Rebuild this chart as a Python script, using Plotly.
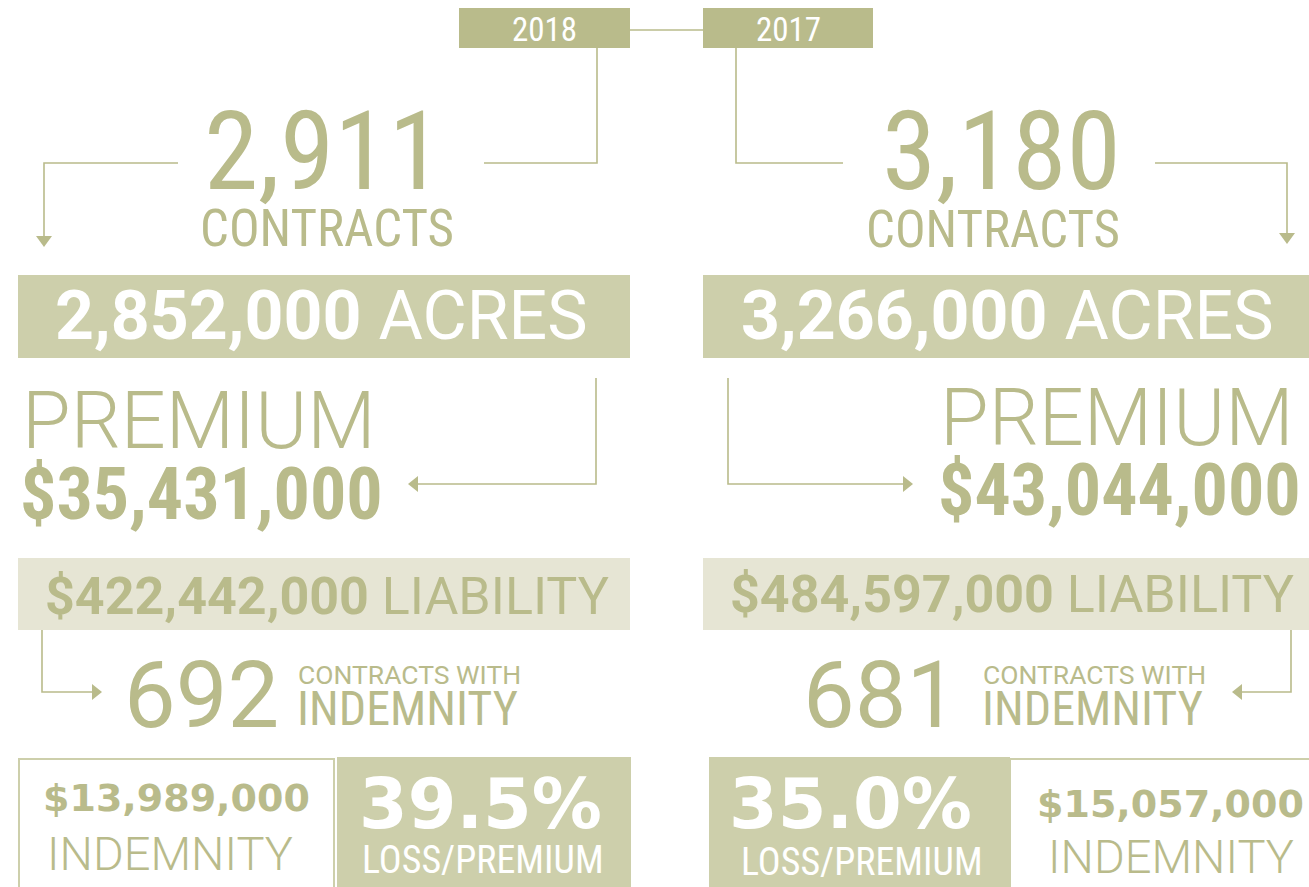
import plotly.graph_objects as go

# ---------------- data ----------------
years = ["2018", "2017"]
contracts = ["2,911", "3,180"]
acres = ["2,852,000", "3,266,000"]
premium = ["$35,431,000", "$43,044,000"]
liability = ["$422,442,000", "$484,597,000"]
contracts_with_indemnity = ["692", "681"]
indemnity = ["$13,989,000", "$15,057,000"]
loss_premium = ["39.5%", "35.0%"]

# ---------------- style ----------------
W, H = 1309, 887
DARK = "#b9bb8b"
MID = "#cdcfab"
LIGHT = "#e6e5d4"
WHITE = "#ffffff"
COND = "Roboto Condensed, Roboto, sans-serif"
REG = "Roboto, sans-serif"
WIDEB = "DejaVu Sans, sans-serif"

fig = go.Figure()
shapes = []
ann = []


def rect(x0, y0, x1, y1, fill, line=None, lw=0):
    shapes.append(dict(type="rect", xref="x", yref="y", x0=x0, y0=y0, x1=x1, y1=y1,
                       fillcolor=fill, line=dict(color=line or fill, width=lw), layer="below"))


def line(pts, w=1.6):
    path = "M " + " L ".join(f"{x},{y}" for x, y in pts)
    shapes.append(dict(type="path", xref="x", yref="y", path=path,
                       line=dict(color=DARK, width=w), fillcolor="rgba(0,0,0,0)"))


def tri(pts):
    path = "M " + " L ".join(f"{x},{y}" for x, y in pts) + " Z"
    shapes.append(dict(type="path", xref="x", yref="y", path=path,
                       line=dict(color=DARK, width=0), fillcolor=DARK))


def text(x, y, s, size, color=DARK, xa="center", ya="middle", fam=COND, weight=400):
    ann.append(dict(x=x, y=y, xref="x", yref="y", text=s, showarrow=False,
                    xanchor=xa, yanchor=ya,
                    font=dict(family=fam, size=size, color=color, weight=weight)))


# ---- year header ----
rect(459, 8, 630, 48, DARK)
rect(703, 8, 873, 48, DARK)
line([(630, 30), (703, 30)])
text(544.5, 29, years[0], 33, WHITE)
text(788, 29, years[1], 33, WHITE)

# ---- connectors top ----
line([(597, 48), (597, 163), (484, 163)])
line([(178, 163), (44, 163), (44, 236)])
tri([(36, 236), (52, 236), (44, 247)])
line([(736, 48), (736, 163), (843, 163)])
line([(1155, 163), (1287, 163), (1287, 233)])
tri([(1279, 233), (1295, 233), (1287, 244)])

# ---- contracts ----
text(323, 151.5, contracts[0], 110)
text(327, 228.5, "CONTRACTS", 51)
text(1001, 151.5, contracts[1], 110)
text(993, 229, "CONTRACTS", 51)

# ---- acres ----
rect(18, 275, 630, 358, MID)
rect(703, 275, 1309, 358, MID)
text(321, 316, f"<b>{acres[0]}</b> ACRES", 68, WHITE, fam=REG)
text(1007, 316, f"<b>{acres[1]}</b> ACRES", 68, WHITE, fam=REG)

# ---- premium ----
text(20, 421, "PREMIUM", 79, xa="left", fam=REG, weight=300)
text(18, 494, f"<b>{premium[0]}</b>", 72, xa="left")
line([(596, 378), (596, 484), (418, 484)])
tri([(418, 476), (418, 492), (408, 484)])
text(1296, 418, "PREMIUM", 79, xa="right", fam=REG, weight=300)
text(1303, 490, f"<b>{premium[1]}</b>", 72, xa="right")
line([(728, 378), (728, 484), (903, 484)])
tri([(903, 476), (903, 492), (913, 484)])

# ---- liability ----
rect(18, 558, 630, 630, LIGHT)
rect(703, 558, 1309, 630, LIGHT)
text(327, 596, f"<b>{liability[0]}</b> LIABILITY", 52, fam=REG)
text(1012, 594, f"<b>{liability[1]}</b> LIABILITY", 52, fam=REG)

# ---- contracts with indemnity ----
line([(42, 630), (42, 692), (92, 692)])
tri([(92, 684), (92, 700), (102, 692)])
text(201.5, 695.5, contracts_with_indemnity[0], 92, fam=REG)
text(296, 674, "CONTRACTS WITH", 26.5, xa="left", fam=REG)
text(295, 708.5, "INDEMNITY", 48, xa="left")

line([(1291, 630), (1291, 692), (1242, 692)])
tri([(1242, 684), (1242, 700), (1232, 692)])
text(880, 695.5, contracts_with_indemnity[1], 92, fam=REG)
text(981, 674, "CONTRACTS WITH", 26.5, xa="left", fam=REG)
text(980, 708.5, "INDEMNITY", 48, xa="left")

# ---- indemnity / loss ratio ----
rect(19, 759, 334, 890, WHITE, MID, 2)
rect(337, 757, 631, 887, MID)
text(176.5, 797.5, f"<b>{indemnity[0]}</b>", 38, fam=WIDEB)
text(170, 853.5, "INDEMNITY", 47, fam=REG, weight=300)
text(480, 804, f"<b>{loss_premium[0]}</b>", 70, WHITE, fam=WIDEB)
text(483, 860, "LOSS/PREMIUM", 38, WHITE)

rect(1010, 759, 1312, 890, WHITE, MID, 2)
rect(709, 757, 1010, 887, MID)
text(1170, 804, f"<b>{indemnity[1]}</b>", 38, fam=WIDEB)
text(1171, 856, "INDEMNITY", 47, fam=REG, weight=300)
text(850, 803.5, f"<b>{loss_premium[1]}</b>", 70, WHITE, fam=WIDEB)
text(862, 862, "LOSS/PREMIUM", 38, WHITE)

fig.update_layout(
    width=W, height=H,
    margin=dict(l=0, r=0, t=0, b=0),
    paper_bgcolor=WHITE, plot_bgcolor=WHITE,
    xaxis=dict(range=[0, W], visible=False, fixedrange=True),
    yaxis=dict(range=[H, 0], visible=False, fixedrange=True),
    shapes=shapes, annotations=ann, showlegend=False,
)

fig.write_html("out.html", post_script="document.body.style.margin='0';",
               config={"displayModeBar": False})
